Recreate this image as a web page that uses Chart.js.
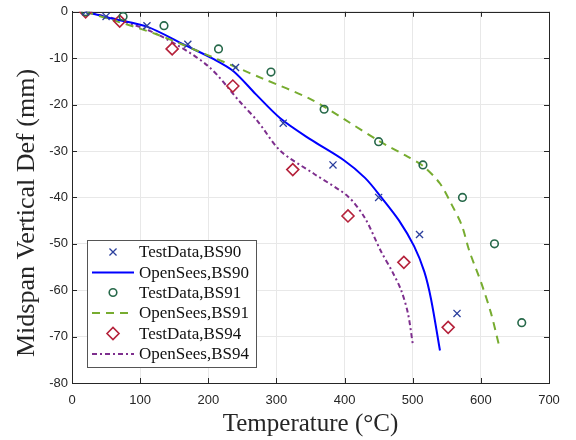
<!DOCTYPE html>
<html>
<head>
<meta charset="utf-8">
<script src="https://cdn.jsdelivr.net/npm/chart.js@4.4.1/dist/chart.umd.min.js"></script>
<style>
html,body{margin:0;padding:0;background:#fff;}
#wrap{position:relative;width:576px;height:440px;}
</style>
</head>
<body>
<div id="wrap"><canvas id="c" width="576" height="440"></canvas></div>
<script>
// ---- data ----
const bs90TestT = [20, 50, 110, 170, 240, 310, 383, 450, 510, 565];
const bs90TestD = [0, -1, -3, -7, -12, -24, -33, -40, -48, -65];

const bs90ModelT = [20, 60, 110, 166, 208, 237, 270, 306, 350, 399, 430, 454, 480, 502, 517, 527, 540];
const bs90ModelD = [0, -1.5, -3.2, -7.2, -10.2, -12.8, -17.8, -23, -27.5, -32, -35.8, -40, -45, -50.5, -56, -62, -73];

const bs91TestT = [20, 75, 135, 215, 292, 370, 450, 515, 573, 620, 660];
const bs91TestD = [0, -1, -3, -8, -13, -21, -28, -33, -40, -50, -67];

const bs91ModelT = [20, 60, 125, 200, 280, 350, 400, 450, 490, 515, 540, 557, 572, 583, 601, 615, 626];
const bs91ModelD = [0, -1.8, -4.9, -9.4, -14.4, -18.8, -23.2, -27.8, -31, -33.2, -37, -41.5, -46, -51.5, -58.6, -65, -71.5];

const bs94TestT = [20, 70, 147, 236, 324, 405, 487, 552];
const bs94TestD = [0, -2, -8, -16, -34, -44, -54, -68];

const bs94ModelT = [20, 70, 130, 199, 247, 272, 306, 355, 405, 430, 453, 470, 483, 493, 500];
const bs94ModelD = [0, -1.8, -5.2, -11.6, -19.5, -23.5, -30, -34.9, -39.8, -44.5, -51.5, -56, -60, -65, -71.5];

const seriesNames = ['TestData,BS90', 'OpenSees,BS90', 'TestData,BS91', 'OpenSees,BS91', 'TestData,BS94', 'OpenSees,BS94'];
const xTickValues = [0, 100, 200, 300, 400, 500, 600, 700];
const yTickValues = [-80, -70, -60, -50, -40, -30, -20, -10, 0];
const xTitle = 'Temperature (\u00B0C)';
const yTitle = 'Midspan Vertical Def (mm)';

function pts(xs, ys) { return xs.map((x, i) => ({x: x, y: ys[i]})); }

const C_X = '#2b3f9d', C_B = '#0000ff', C_O = '#27694a', C_G = '#77ac30', C_D = '#b5213a', C_P = '#7e2f8e';
const SERIF = '"Liberation Serif", "Times New Roman", serif';
const SANS = '"Liberation Sans", Arial, sans-serif';

const datasets = [
  {label: seriesNames[1], data: pts(bs90ModelT, bs90ModelD), showLine: true, borderColor: C_B, borderWidth: 2, pointRadius: 0, tension: 0.3, order: 5},
  {label: seriesNames[3], data: pts(bs91ModelT, bs91ModelD), showLine: true, borderColor: C_G, borderWidth: 2, borderDash: [8, 6], pointRadius: 0, tension: 0.3, order: 4},
  {label: seriesNames[5], data: pts(bs94ModelT, bs94ModelD), showLine: true, borderColor: C_P, borderWidth: 2, borderDash: [5, 3, 2, 3], pointRadius: 0, tension: 0.3, order: 6},
  {label: seriesNames[0], data: pts(bs90TestT, bs90TestD), showLine: false, pointStyle: 'crossRot', pointRadius: 5, borderColor: C_X, backgroundColor: C_X, pointBorderWidth: 1.3, order: 1},
  {label: seriesNames[2], data: pts(bs91TestT, bs91TestD), showLine: false, pointStyle: 'circle', pointRadius: 3.8, borderColor: C_O, backgroundColor: 'rgba(0,0,0,0)', pointBorderWidth: 1.6, order: 2},
  {label: seriesNames[4], data: pts(bs94TestT, bs94TestD), showLine: false, pointStyle: 'rectRot', pointRadius: 6, borderColor: C_D, backgroundColor: 'rgba(0,0,0,0)', pointBorderWidth: 1.6, order: 3}
];

const frame = {
  id: 'frame',
  beforeDatasetsDraw(chart) {
    const {ctx, chartArea: a, scales} = chart;
    ctx.save();
    ctx.strokeStyle = '#262626';
    ctx.lineWidth = 1;
    ctx.beginPath();
    const tl = 5;
    xTickValues.forEach(v => {
      const px = Math.round(scales.x.getPixelForValue(v)) + 0.5;
      ctx.moveTo(px, a.bottom); ctx.lineTo(px, a.bottom - tl);
      ctx.moveTo(px, a.top); ctx.lineTo(px, a.top + tl);
    });
    yTickValues.forEach(v => {
      const py = Math.round(scales.y.getPixelForValue(v)) + 0.5;
      ctx.moveTo(a.left, py); ctx.lineTo(a.left + tl, py);
      ctx.moveTo(a.right, py); ctx.lineTo(a.right - tl, py);
    });
    ctx.stroke();
    ctx.strokeRect(Math.round(a.left) + 0.5, Math.round(a.top) + 0.5, Math.round(a.right - a.left), Math.round(a.bottom - a.top));
    ctx.restore();
  },
  afterDraw(chart) {
    const ctx = chart.ctx;
    ctx.save();
    // y-axis title
    ctx.translate(27, 213);
    ctx.rotate(-Math.PI / 2);
    ctx.fillStyle = '#262626';
    ctx.font = '26px ' + SERIF;
    ctx.textAlign = 'center';
    ctx.textBaseline = 'middle';
    ctx.fillText(yTitle, 0, 0);
    ctx.restore();

    // legend
    ctx.save();
    const L = 87, T = 240, W = 169, H = 127;
    ctx.fillStyle = '#fff';
    ctx.fillRect(L, T, W, H);
    ctx.strokeStyle = '#555';
    ctx.lineWidth = 1;
    ctx.strokeRect(L + 0.5, T + 0.5, W, H);
    const rows = [252, 272.5, 292.5, 313, 333.5, 354];
    const order = [3, 0, 4, 1, 5, 2];
    order.forEach((di, r) => {
      const ds = chart.data.datasets[di];
      const y = rows[r];
      ctx.save();
      if (ds.showLine) {
        ctx.strokeStyle = ds.borderColor;
        ctx.lineWidth = ds.borderWidth;
        ctx.setLineDash(ds.borderDash || []);
        ctx.beginPath(); ctx.moveTo(92, y); ctx.lineTo(134, y); ctx.stroke();
      } else {
        ctx.lineWidth = ds.pointBorderWidth;
        ctx.strokeStyle = ds.borderColor;
        ctx.fillStyle = ds.backgroundColor;
        Chart.helpers.drawPoint(ctx, {pointStyle: ds.pointStyle, radius: ds.pointRadius, borderWidth: ds.pointBorderWidth, rotation: 0}, 113, y);
      }
      ctx.restore();
      ctx.save();
      ctx.font = '17px ' + SERIF;
      ctx.textBaseline = 'middle';
      ctx.fillStyle = '#111';
      ctx.fillText(ds.label, 139, y + 1);
      ctx.restore();
    });
    ctx.restore();
  }
};

new Chart(document.getElementById('c'), {
  type: 'scatter',
  data: {datasets: datasets},
  options: {
    responsive: false,
    animation: false,
    devicePixelRatio: 1,
    layout: {padding: {top: 9, right: 27, left: 0, bottom: 0}},
    plugins: {legend: {display: false}, tooltip: {enabled: false}},
    scales: {
      x: {
        type: 'linear', min: 0, max: 700,
        afterFit(s) { s.height = 57; },
        afterBuildTicks(s) { s.ticks = xTickValues.map(v => ({value: v})); },
        ticks: {color: '#262626', font: {family: SANS, size: 13}, padding: 10},
        grid: {color: '#e8e8e8', drawTicks: false},
        border: {display: true, color: '#262626'},
        title: {display: true, text: xTitle, color: '#262626', font: {family: SERIF, size: 25}, padding: {top: 0, bottom: 1}}
      },
      y: {
        type: 'linear', min: -80, max: 0,
        afterFit(s) { s.width = 72; },
        afterBuildTicks(s) { s.ticks = yTickValues.map(v => ({value: v})); },
        ticks: {color: '#262626', font: {family: SANS, size: 13}, padding: 4},
        grid: {color: '#e8e8e8', drawTicks: false},
        border: {display: true, color: '#262626'},
        title: {display: false, text: yTitle}
      }
    }
  },
  plugins: [frame]
});
</script>
</body>
</html>
